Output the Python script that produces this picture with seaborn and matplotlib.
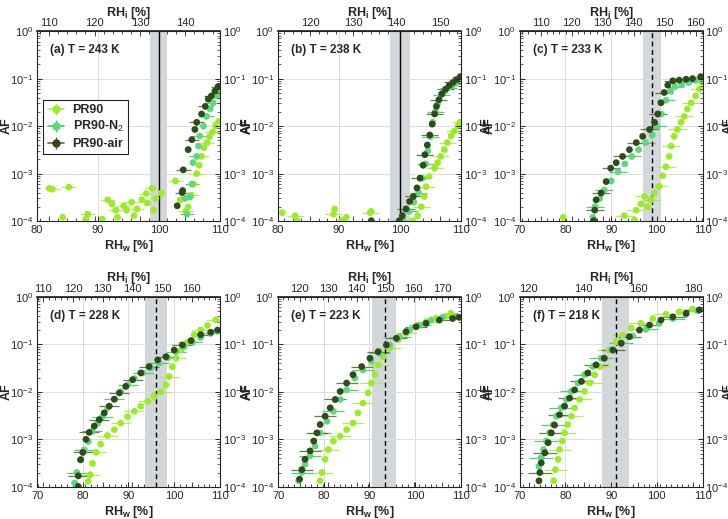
import numpy as np
import pandas as pd
import matplotlib
matplotlib.use("Agg")
import matplotlib.pyplot as plt
import seaborn as sns
from matplotlib.lines import Line2D
from matplotlib.ticker import LogLocator, NullFormatter, AutoMinorLocator

# ---------------- data ----------------
temps = [243, 238, 233, 228, 223, 218]
letters = ["a", "b", "c", "d", "e", "f"]
series_names = ["PR90", "PR90-N$_2$", "PR90-air"]
onset_rhw = [100.0, 100.0, 98.9, 96.1, 93.3, 91.0]
onset_lo = [98.5, 98.3, 96.9, 93.7, 90.6, 88.0]
onset_hi = [101.3, 101.7, 100.9, 98.5, 95.9, 93.9]
rhw_err = [1.2, 1.4, 2.0, 2.2, 2.4, 2.6]
rhi_ticks = [[110, 120, 130, 140], [120, 130, 140, 150], [110, 120, 130, 140, 150, 160],
             [110, 120, 130, 140, 150, 160], [120, 130, 140, 150, 160, 170], [120, 140, 160, 180]]

A_PR90_RHW = [82.0, 82.5, 84.2, 85.2, 88.0, 88.3, 90.7, 91.6, 92.3, 92.9, 93.2, 94.2, 94.7, 95.5, 95.9, 96.4, 97.2, 97.9, 98.1, 98.9, 99.1, 99.5, 100.4, 102.7, 103.5, 104.4, 104.8, 105.3, 105.7, 106.2, 106.6, 107.0, 107.4, 107.9, 108.3, 108.8, 109.3, 109.8]
A_PR90_AF = [4.9e-4, 4.7e-4, 1.2e-4, 5.2e-4, 1.1e-4, 1.4e-4, 1.1e-4, 2.8e-4, 2.3e-4, 1.7e-4, 1.2e-4, 2.1e-4, 1.7e-4, 2.5e-4, 1.3e-4, 1.8e-4, 2.8e-4, 3.8e-4, 2.4e-4, 4.9e-4, 1.7e-4, 3.0e-4, 3.9e-4, 7e-4, 2.8e-4, 1.6e-4, 2.0e-4, 3.5e-4, 6e-4, 1.0e-3, 1.5e-3, 2.3e-3, 3.5e-3, 4.5e-3, 6e-3, 7.5e-3, 1.0e-2, 1.25e-2]
A_N2_RHW = [104.3, 104.6, 105.1, 105.4, 105.6, 106.2, 106.5, 106.7, 107.3, 107.8, 108.4, 108.9, 109.5, 109.8]
A_N2_AF = [3.0e-4, 1.4e-4, 3.2e-4, 6e-4, 1.7e-3, 2.3e-3, 3.8e-3, 6.2e-3, 1e-2, 1.6e-2, 2.3e-2, 3.1e-2, 4.3e-2, 5.5e-2]
A_AIR_RHW = [103.0, 103.8, 103.9, 104.0, 104.8, 105.4, 105.9, 106.2, 107.0, 107.6, 108.1, 108.6, 109.2, 109.7]
A_AIR_AF = [2.1e-4, 4.0e-4, 4.4e-4, 1.2e-3, 3.2e-3, 5.2e-3, 8.5e-3, 1.2e-2, 1.8e-2, 2.6e-2, 3.7e-2, 4.3e-2, 5.5e-2, 6.8e-2]

B_PR90_RHW = [80.7, 82.8, 83.1, 89.1, 89.3, 90.4, 91.2, 95.1, 95.3, 102.1, 102.9, 103.5, 104.0, 104.3, 104.8, 105.7, 106.2, 106.7, 107.3, 107.8, 108.4, 108.9, 109.5, 109.9]
B_PR90_AF = [1.5e-4, 1.3e-4, 1.02e-4, 1.4e-4, 1.8e-4, 1.02e-4, 1.2e-4, 1.5e-4, 1.6e-4, 1.02e-4, 1.3e-4, 2.0e-4, 3.3e-4, 5.3e-4, 8.7e-4, 1.3e-3, 1.7e-3, 2.3e-3, 3.2e-3, 4.5e-3, 6.2e-3, 7.8e-3, 1.0e-2, 1.2e-2]
B_N2_RHW = [100.5, 101.5, 102.3, 103.0, 103.7, 104.2, 104.6, 105.0, 105.4, 105.8, 106.2, 106.8, 107.4, 108.0, 108.6, 109.2, 109.8]
B_N2_AF = [1.05e-4, 1.6e-4, 2.5e-4, 4e-4, 8e-4, 1.6e-3, 3e-3, 6e-3, 1.2e-2, 2e-2, 3e-2, 4.5e-2, 5.5e-2, 6.5e-2, 7.2e-2, 8e-2, 8.5e-2]
B_AIR_RHW = [95.3, 99.9, 100.4, 101.0, 101.6, 102.2, 102.8, 103.3, 103.8, 104.1, 104.5, 104.9, 105.3, 105.7, 106.0, 106.4, 106.9, 107.5, 108.1, 108.7, 109.3, 109.9]
B_AIR_AF = [1.02e-4, 1.02e-4, 1.3e-4, 1.8e-4, 2.6e-4, 3.3e-4, 5e-4, 8e-4, 1.5e-3, 2.5e-3, 4e-3, 6.5e-3, 1.1e-2, 1.8e-2, 2.6e-2, 3.6e-2, 4.8e-2, 6e-2, 7.2e-2, 8.3e-2, 9.5e-2, 1.1e-1]

C_PR90_RHW = [79.5, 92.9, 95.1, 95.5, 96.5, 97.3, 98.0, 98.7, 99.5, 100.5, 101.3, 102.0, 102.7, 103.1, 103.8, 104.5, 105.3, 106.0, 106.7, 107.5, 108.5, 109.3, 109.9]
C_PR90_AF = [1.2e-4, 1.3e-4, 1.05e-4, 1.7e-4, 2.3e-4, 3.3e-4, 2e-4, 2.8e-4, 3.9e-4, 5.4e-4, 9e-4, 1.4e-3, 2.3e-3, 3.8e-3, 6.1e-3, 8.5e-3, 1.2e-2, 1.6e-2, 2.3e-2, 3.1e-2, 4.3e-2, 6e-2, 8.3e-2]
C_N2_RHW = [86.0, 86.5, 87.5, 88.5, 90.0, 91.5, 93.0, 94.5, 96.0, 97.5, 99.0, 100.0, 101.0, 102.0, 103.0, 104.0, 105.5, 107.0, 108.5, 109.8]
C_N2_AF = [1.2e-4, 2e-4, 3e-4, 4.5e-4, 7e-4, 1.1e-3, 1.6e-3, 2.3e-3, 3.2e-3, 4.5e-3, 6.5e-3, 1e-2, 1.8e-2, 3.5e-2, 5.5e-2, 6.8e-2, 7.5e-2, 8.3e-2, 9.2e-2, 1.0e-1]
C_AIR_RHW = [86.2, 86.4, 86.7, 87.8, 88.9, 89.9, 91.1, 92.5, 94.0, 95.5, 96.9, 98.4, 99.5, 100.2, 100.9, 101.6, 102.4, 103.5, 104.9, 106.4, 107.8, 109.6]
C_AIR_AF = [1.02e-4, 1.7e-4, 2.8e-4, 3.9e-4, 6.8e-4, 1.3e-3, 1.7e-3, 2.3e-3, 3.2e-3, 4.5e-3, 6.1e-3, 8.5e-3, 1.2e-2, 1.8e-2, 3.1e-2, 5.1e-2, 7.3e-2, 9e-2, 9.3e-2, 9.7e-2, 1.0e-1, 1.1e-1]

D_PR90_RHW = [81.2, 81.6, 82.1, 82.9, 83.9, 85.4, 86.9, 88.3, 89.8, 91.3, 92.7, 94.2, 95.6, 97.1, 98.2, 98.9, 99.6, 100.4, 101.5, 102.9, 104.4, 105.8, 107.3, 109.1]
D_PR90_AF = [1.3e-4, 1.8e-4, 3.1e-4, 5.3e-4, 7.9e-4, 1.2e-3, 1.6e-3, 2.2e-3, 3.0e-3, 3.9e-3, 5e-3, 6.3e-3, 8.1e-3, 1.0e-2, 1.4e-2, 2.1e-2, 3.4e-2, 5.1e-2, 7.6e-2, 1.1e-1, 1.6e-1, 2.0e-1, 2.5e-1, 3.3e-1]
D_N2_RHW = [78.2, 78.7, 79.6, 80.3, 81.2, 82.1, 83.3, 84.3, 85.4, 86.9, 88.3, 89.8, 91.3, 93.1, 94.9, 96.7, 98.6, 100.4, 102.2, 104.0, 105.8, 108.0, 109.5]
D_N2_AF = [1.2e-4, 2e-4, 3.8e-4, 6e-4, 9e-4, 1.5e-3, 2.2e-3, 3.0e-3, 4.6e-3, 7e-3, 1.0e-2, 1.4e-2, 1.9e-2, 2.5e-2, 3.2e-2, 4e-2, 5.2e-2, 7e-2, 9e-2, 1.1e-1, 1.4e-1, 1.7e-1, 1.9e-1]
D_AIR_RHW = [79.0, 79.0, 79.5, 80.0, 80.7, 81.4, 82.5, 83.6, 84.7, 85.8, 86.9, 88.0, 89.4, 90.9, 92.7, 94.5, 96.4, 98.2, 100.0, 101.8, 103.7, 105.8, 108.0, 109.5]
D_AIR_AF = [1.02e-4, 1.7e-4, 3.7e-4, 5.3e-4, 1.0e-3, 1.4e-3, 1.9e-3, 2.6e-3, 3.6e-3, 5e-3, 7e-3, 9.5e-3, 1.3e-2, 1.8e-2, 2.5e-2, 3.4e-2, 4.7e-2, 5.5e-2, 7.6e-2, 9.7e-2, 1.2e-1, 1.6e-1, 1.8e-1, 2.0e-1]

E_PR90_RHW = [79.2, 79.6, 80.3, 81.0, 82.1, 83.6, 85.0, 86.4, 87.5, 88.6, 89.7, 90.4, 91.2, 91.9, 93.0, 94.4, 96.3, 98.0, 100.2, 102.4, 104.6, 106.7, 107.8]
E_PR90_AF = [1.34e-4, 2.0e-4, 3.8e-4, 6.1e-4, 9.2e-4, 1.17e-3, 1.6e-3, 2.2e-3, 3.6e-3, 5.8e-3, 9.5e-3, 1.53e-2, 2.3e-2, 3.7e-2, 5.5e-2, 8.3e-2, 1.24e-1, 1.7e-1, 2.35e-1, 3.0e-1, 3.5e-1, 3.9e-1, 4.5e-1]
E_N2_RHW = [74.5, 75.2, 75.9, 77.0, 78.1, 79.2, 80.7, 82.1, 83.6, 85.0, 86.8, 88.6, 90.4, 92.2, 94.4, 96.6, 98.8, 101.0, 103.5, 106.0, 109.0]
E_N2_AF = [1.34e-4, 2.0e-4, 3.0e-4, 4.5e-4, 7.2e-4, 1.37e-3, 2.4e-3, 3.9e-3, 6.9e-3, 1.1e-2, 1.95e-2, 2.9e-2, 4.4e-2, 6.5e-2, 9.7e-2, 1.45e-1, 2.0e-1, 2.55e-1, 3.25e-1, 3.7e-1, 3.9e-1]
E_AIR_RHW = [74.7, 75.2, 75.9, 77.0, 77.8, 78.5, 79.2, 80.3, 81.4, 82.5, 83.6, 85.0, 86.4, 88.3, 90.1, 91.9, 93.7, 95.9, 98.0, 100.2, 102.4, 105.3, 108.2, 109.6]
E_AIR_AF = [1.45e-4, 2.3e-4, 3.8e-4, 5.7e-4, 9.2e-4, 1.37e-3, 2.05e-3, 3.07e-3, 4.6e-3, 6.9e-3, 1.02e-2, 1.53e-2, 2.3e-2, 3.4e-2, 5.1e-2, 7.0e-2, 9.7e-2, 1.34e-1, 1.85e-1, 2.35e-1, 2.77e-1, 3.25e-1, 3.5e-1, 3.7e-1]

F_PR90_RHW = [77.4, 77.8, 78.4, 78.7, 79.3, 79.8, 80.5, 81.3, 82.0, 83.1, 84.2, 85.3, 86.4, 87.5, 88.5, 89.6, 91.1, 92.5, 94.4, 96.5, 99.1, 102.0, 104.9, 107.8]
F_PR90_AF = [1.34e-4, 2.3e-4, 3.8e-4, 6.1e-4, 9.2e-4, 1.37e-3, 2.05e-3, 3.07e-3, 4.6e-3, 6.9e-3, 1.02e-2, 1.53e-2, 2.3e-2, 3.4e-2, 5.1e-2, 7.6e-2, 1.14e-1, 1.57e-1, 2.2e-1, 2.77e-1, 3.5e-1, 4.3e-1, 4.85e-1, 5.5e-1]
F_N2_RHW = [74.2, 74.7, 75.2, 75.8, 76.5, 77.3, 78.0, 79.1, 80.2, 81.3, 82.7, 84.2, 86.0, 87.8, 90.0, 92.2, 94.7, 97.6, 100.5, 103.5, 106.4, 108.9]
F_N2_AF = [2.7e-4, 4.1e-4, 6.1e-4, 9.2e-4, 1.37e-3, 2.05e-3, 3.07e-3, 4.6e-3, 6.9e-3, 1.02e-2, 1.53e-2, 2.3e-2, 3.4e-2, 5.1e-2, 7.6e-2, 1.09e-1, 1.5e-1, 2.07e-1, 2.77e-1, 3.5e-1, 4.3e-1, 5.1e-1]
F_AIR_RHW = [74.2, 74.4, 74.7, 75.5, 76.2, 76.9, 77.6, 78.7, 79.8, 80.9, 82.0, 83.5, 84.9, 86.7, 88.5, 90.4, 92.2, 94.0, 96.2, 98.4, 100.9, 103.5, 106.4, 109.3]
F_AIR_AF = [1.34e-4, 2.0e-4, 3.2e-4, 5.2e-4, 8.5e-4, 1.37e-3, 2.0e-3, 3.3e-3, 5.0e-3, 7.4e-3, 1.1e-2, 1.66e-2, 2.5e-2, 3.7e-2, 5.1e-2, 7.6e-2, 1.05e-1, 1.45e-1, 2.0e-1, 2.55e-1, 3.25e-1, 3.8e-1, 4.5e-1, 5.3e-1]

panel_series = {
    "a": [(A_PR90_RHW, A_PR90_AF), (A_N2_RHW, A_N2_AF), (A_AIR_RHW, A_AIR_AF)],
    "b": [(B_PR90_RHW, B_PR90_AF), (B_N2_RHW, B_N2_AF), (B_AIR_RHW, B_AIR_AF)],
    "c": [(C_PR90_RHW, C_PR90_AF), (C_N2_RHW, C_N2_AF), (C_AIR_RHW, C_AIR_AF)],
    "d": [(D_PR90_RHW, D_PR90_AF), (D_N2_RHW, D_N2_AF), (D_AIR_RHW, D_AIR_AF)],
    "e": [(E_PR90_RHW, E_PR90_AF), (E_N2_RHW, E_N2_AF), (E_AIR_RHW, E_AIR_AF)],
    "f": [(F_PR90_RHW, F_PR90_AF), (F_N2_RHW, F_N2_AF), (F_AIR_RHW, F_AIR_AF)],
}

rows = []
for p in letters:
    for name, (xs, ys) in zip(series_names, panel_series[p]):
        for x, y in zip(xs, ys):
            rows.append({"panel": p, "series": name, "RHw": x, "AF": y})
df = pd.DataFrame(rows)

# ---------------- style ----------------
sns.set_theme(style="white")
plt.rcParams["font.family"] = ["Liberation Sans", "DejaVu Sans"]
plt.rcParams["mathtext.fontset"] = "custom"
plt.rcParams["mathtext.rm"] = "Liberation Sans"
plt.rcParams["mathtext.bf"] = "Liberation Sans:bold"

marker_col = {"PR90": "#9ee832", "PR90-N$_2$": "#62d67e", "PR90-air": "#2f4a1c"}
err_col = {"PR90": "#a8ec50", "PR90-N$_2$": "#49c468", "PR90-air": "#5b6b48"}
txt_col = "#262626"


def ratio_w_i(T):
    lnesi = 9.550426 - 5723.265 / T + 3.53068 * np.log(T) - 0.00728332 * T
    lnesw = (54.842763 - 6763.22 / T - 4.210 * np.log(T) + 0.000367 * T
             + np.tanh(0.0415 * (T - 218.8))
             * (53.878 - 1331.22 / T - 9.44523 * np.log(T) + 0.014025 * T))
    return np.exp(lnesw - lnesi)


fig = plt.figure(figsize=(7.28, 5.19), dpi=100)
lefts = [0.051, 0.382, 0.714]
bottoms = [0.574, 0.062]
W, H = 0.251, 0.366
tfs = 8

for i, p in enumerate(letters):
    ax = fig.add_axes([lefts[i % 3], bottoms[i // 3], W, H])
    sub = df[df.panel == p]
    xlo = 80 if i < 2 else 70
    ax.set_yscale("log")
    ax.set_xlim(xlo, 110)
    ax.set_ylim(1e-4, 1)

    ax.axvspan(onset_lo[i], onset_hi[i], color="#d3d7d9", zorder=0.5, lw=0)
    ax.grid(True, which="major", color="#dcdcdc", lw=0.7, zorder=0.2)
    ax.set_axisbelow(True)

    for name in series_names:
        s = sub[sub.series == name]
        ax.errorbar(s.RHw, s.AF, xerr=rhw_err[i], fmt="none", ecolor=err_col[name],
                    elinewidth=0.9, capsize=0, errorevery=(1, 2), zorder=2, alpha=0.9)
    sns.scatterplot(data=sub, x="RHw", y="AF", hue="series", hue_order=series_names,
                    palette=marker_col, s=24, edgecolor="none", linewidth=0,
                    legend=False, ax=ax, zorder=3)

    ax.axvline(onset_rhw[i], color="black", lw=1.0, ls="-" if i < 2 else (0, (3.5, 2.5)),
               zorder=2.5)

    ax.set_xticks(list(range(xlo, 111, 10)))
    ax.yaxis.set_major_locator(LogLocator(base=10, numticks=10))
    ax.yaxis.set_minor_locator(LogLocator(base=10, subs=np.arange(2, 10), numticks=20))
    ax.yaxis.set_minor_formatter(NullFormatter())
    ax.tick_params(axis="both", which="both", direction="in", labelsize=tfs, pad=3,
                   left=True, bottom=True, colors=txt_col, labelcolor=txt_col)
    ax.tick_params(axis="both", which="major", length=3.5, width=0.7)
    ax.tick_params(axis="y", which="minor", length=2, width=0.5)
    ax.set_xlabel(r"RH$_\mathbf{w}$ [%]", fontsize=9, fontweight="bold", labelpad=2,
                  color=txt_col)
    ax.set_ylabel("AF", fontsize=9, fontweight="bold", labelpad=-2, color=txt_col)
    for sp in ax.spines.values():
        sp.set_color("#222222")
        sp.set_linewidth(0.8)

    r = ratio_w_i(temps[i])
    fwd = (lambda w, r=r: w * r)
    inv = (lambda v, r=r: v / r)
    top = ax.secondary_xaxis("top", functions=(fwd, inv))
    top.set_xticks(rhi_ticks[i])
    top.xaxis.set_minor_locator(AutoMinorLocator(5 if i < 5 else 10))
    top.tick_params(which="both", direction="in", labelsize=tfs, width=0.6, pad=2,
                    colors=txt_col, labelcolor=txt_col)
    top.tick_params(which="major", length=3.5)
    top.tick_params(which="minor", length=2)
    top.set_xlabel(r"RH$_\mathbf{i}$ [%]", fontsize=9, fontweight="bold", labelpad=2,
                   color=txt_col)

    bot = ax.secondary_xaxis("bottom", functions=(fwd, inv))
    bot.set_xticks(rhi_ticks[i])
    bot.xaxis.set_minor_locator(AutoMinorLocator(5 if i < 5 else 10))
    bot.tick_params(which="both", direction="in", labelbottom=False, width=0.6,
                    colors=txt_col)
    bot.tick_params(which="major", length=3.5)
    bot.tick_params(which="minor", length=2)
    bot.spines["bottom"].set_visible(False)

    axr = ax.twinx()
    axr.set_yscale("log")
    axr.set_ylim(1e-4, 1)
    axr.yaxis.set_major_locator(LogLocator(base=10, numticks=10))
    axr.yaxis.set_minor_locator(LogLocator(base=10, subs=np.arange(2, 10), numticks=20))
    axr.yaxis.set_minor_formatter(NullFormatter())
    axr.tick_params(axis="y", which="both", direction="in", labelsize=tfs, pad=2,
                    right=True, colors=txt_col, labelcolor=txt_col)
    axr.tick_params(axis="y", which="major", length=3.5, width=0.7)
    axr.tick_params(axis="y", which="minor", length=2, width=0.5)
    axr.set_ylabel("AF", fontsize=9, fontweight="bold", labelpad=-4, color=txt_col)
    for sp in axr.spines.values():
        sp.set_visible(False)

    ax.text(0.07, 0.93, f"({p}) T = {temps[i]} K", transform=ax.transAxes,
            fontsize=8.5, fontweight="bold", va="top", ha="left", zorder=5,
            color=txt_col)

    if i == 0:
        handles = []
        for name in series_names:
            h = (Line2D([], [], color=err_col[name], lw=1.2),
                 Line2D([], [], color=err_col[name], marker="|", markersize=9, ls="none"),
                 Line2D([], [], color=marker_col[name], marker="o", markersize=5, ls="none"))
            handles.append(h)
        leg = ax.legend(handles, series_names, loc="upper left",
                        bbox_to_anchor=(0.033, 0.64), borderaxespad=0, frameon=True,
                        fancybox=False, edgecolor="#222222", framealpha=1,
                        handlelength=1.3, borderpad=0.35, labelspacing=0.28,
                        handletextpad=0.7, prop={"weight": "bold", "size": 9})
        leg.get_frame().set_linewidth(0.8)
        leg.set_zorder(10)

fig.savefig("out.png", dpi=100)
